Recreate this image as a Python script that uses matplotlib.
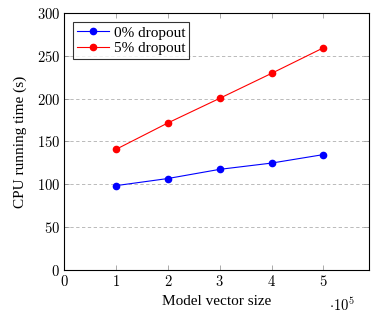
import matplotlib
matplotlib.use("Agg")
import matplotlib.pyplot as plt
from matplotlib.ticker import FixedLocator

# ---------- data ----------
vector_size = [1, 2, 3, 4, 5]  # x 10^5
time_0pct = [98.5, 106.8, 117.5, 124.8, 134.7]
time_5pct = [140.8, 171.6, 200.3, 229.4, 259.2]

x_ticks = [0, 1, 2, 3, 4, 5]
y_ticks = [0, 50, 100, 150, 200, 250, 300]

plt.rcParams["font.family"] = ["Liberation Serif", "DejaVu Serif"]
plt.rcParams["mathtext.fontset"] = "cm"

fig = plt.figure(figsize=(3.75, 3.13), dpi=100)
ax = fig.add_axes([0.171, 0.137, 0.813, 0.822])

ax.plot(vector_size, time_0pct, color="blue", marker="o", markersize=4.5,
        linewidth=0.8, label="0% dropout")
ax.plot(vector_size, time_5pct, color="red", marker="o", markersize=4.5,
        linewidth=0.8, label="5% dropout")

ax.set_xlim(0, 5.88)
ax.set_ylim(0, 300)
ax.xaxis.set_major_locator(FixedLocator(x_ticks))
ax.yaxis.set_major_locator(FixedLocator(y_ticks))
ax.set_xticklabels([f"${t}$" for t in x_ticks])
ax.set_yticklabels([f"${t}$" for t in y_ticks])

ax.grid(True, axis="y", linestyle=(0, (4, 3)), color="#b0b0b0", linewidth=0.6)
ax.tick_params(direction="in", top=True, right=True, length=3.5, width=0.5,
               color="#888888", labelsize=10.5, pad=3)
for sp in ax.spines.values():
    sp.set_linewidth(0.8)

ax.set_xlabel("Model vector size", fontsize=11, labelpad=4)
ax.set_ylabel("CPU running time (s)", fontsize=11, labelpad=7)
ax.text(0.955, -0.138, r"$\cdot 10^5$", transform=ax.transAxes, ha="right",
        va="center", fontsize=10.5)

leg = ax.legend(loc="upper left", fontsize=11, frameon=True, fancybox=False,
                borderpad=0.25, handlelength=2.1, handletextpad=0.3,
                labelspacing=0.15, borderaxespad=0.6)
leg.get_frame().set_edgecolor("black")
leg.get_frame().set_linewidth(0.8)

fig.savefig("out.png", dpi=100)
